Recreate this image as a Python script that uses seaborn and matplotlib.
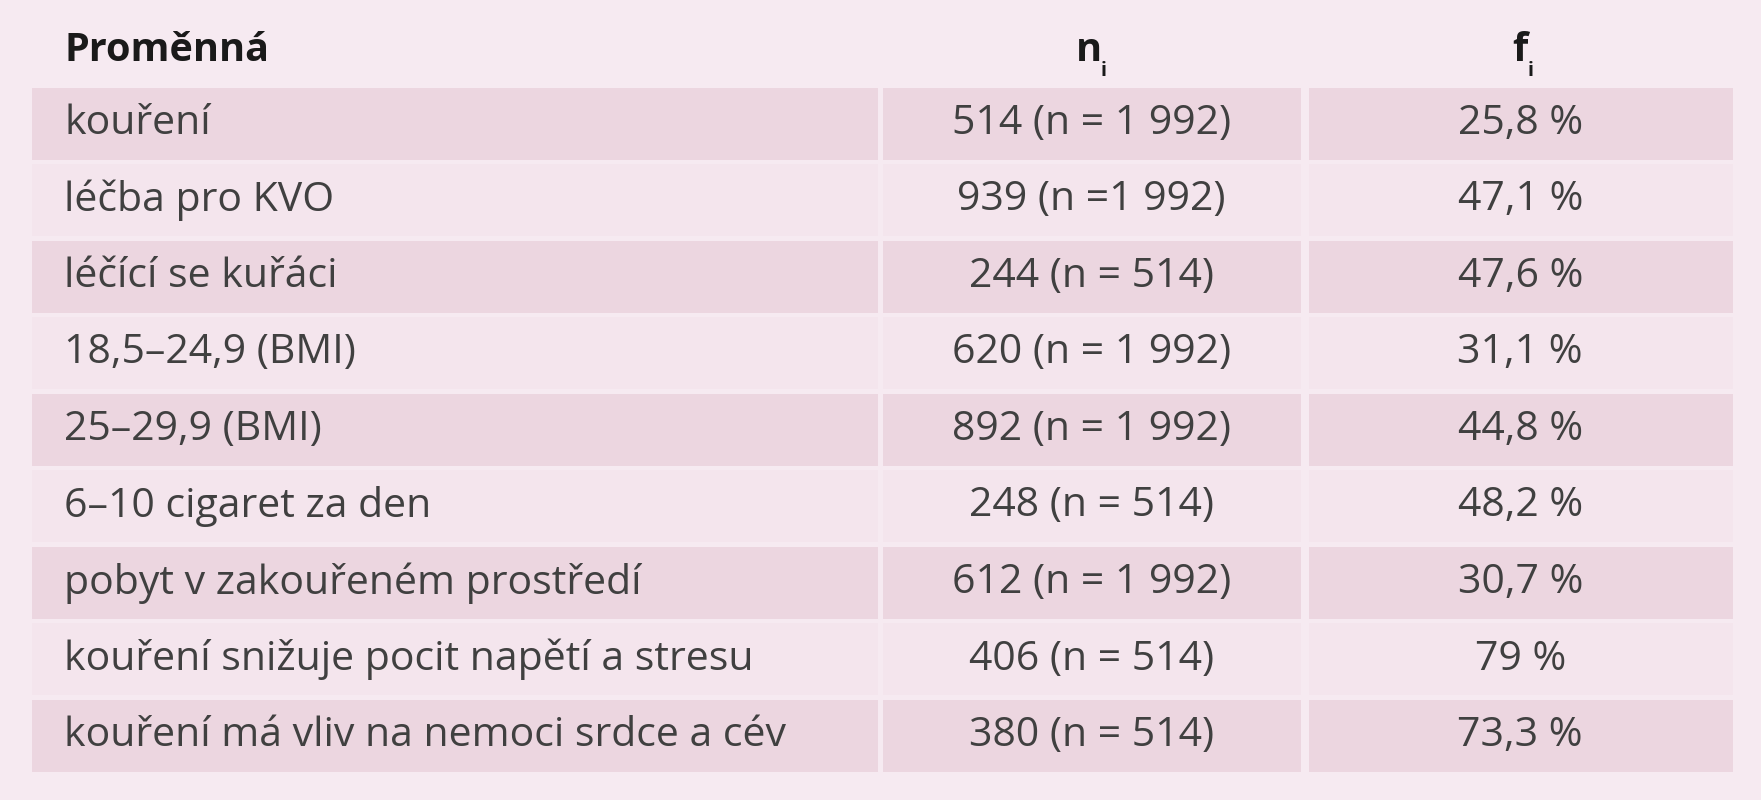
import matplotlib
matplotlib.use("Agg")
import matplotlib.pyplot as plt
import seaborn as sns
from matplotlib.patches import Rectangle

variables = ["kouření", "léčba pro KVO", "léčící se kuřáci", "18,5–24,9 (BMI)", "25–29,9 (BMI)",
             "6–10 cigaret za den", "pobyt v zakouřeném prostředí",
             "kouření snižuje pocit napětí a stresu", "kouření má vliv na nemoci srdce a cév"]
n_values = ["514 (n = 1 992)", "939 (n =1 992)", "244 (n = 514)", "620 (n = 1 992)", "892 (n = 1 992)",
            "248 (n = 514)", "612 (n = 1 992)", "406 (n = 514)", "380 (n = 514)"]
f_values = ["25,8 %", "47,1 %", "47,6 %", "31,1 %", "44,8 %", "48,2 %", "30,7 %", "79 %", "73,3 %"]
headers = ["Proměnná", "n", "f"]

sns.set_theme(style="white")
plt.rcParams['font.family'] = ['Open Sans', 'DejaVu Sans']
BG = "#f6eaf1"
DARK = "#ecd6e0"
LIGHT = "#f4e5ed"

fig = plt.figure(figsize=(17.61, 8), dpi=100, facecolor=BG)
ax = fig.add_axes([0, 0, 1, 1])
ax.set_xlim(0, 1565)
ax.set_ylim(712, 0)
ax.axis("off")
ax.set_facecolor(BG)

cols = [(28, 780), (785, 1156), (1163, 1540)]
row_h = 68.1
y0 = 76
fs = 29.5
tc = "#404040"
for i in range(len(variables)):
    top = y0 + i * row_h + 2
    color = DARK if i % 2 == 0 else LIGHT
    for (a, b) in cols:
        ax.add_patch(Rectangle((a, top), b - a, row_h - 4, facecolor=color, edgecolor="none"))
    yc = top + (row_h - 4) / 2
    ax.text(57, yc, variables[i], fontsize=fs, color=tc, va="center", ha="left")
    ax.text(970, yc, n_values[i], fontsize=fs, color=tc, va="center", ha="center")
    ax.text(1351, yc, f_values[i], fontsize=fs, color=tc, va="center", ha="center")

hy = 45
hc = "#1a1a1a"
ax.text(57, hy, headers[0], fontsize=fs - 1, fontweight="bold", color=hc, va="center", ha="left")
ax.text(968, hy, headers[1], fontsize=fs - 1, fontweight="bold", color=hc, va="center", ha="center")
ax.text(981, hy + 18, "i", fontsize=14, fontweight="bold", color=hc, va="center", ha="center")
ax.text(1351, hy, headers[2], fontsize=fs - 1, fontweight="bold", color=hc, va="center", ha="center")
ax.text(1360, hy + 18, "i", fontsize=14, fontweight="bold", color=hc, va="center", ha="center")

fig.savefig("out.png", dpi=100, facecolor=BG)
